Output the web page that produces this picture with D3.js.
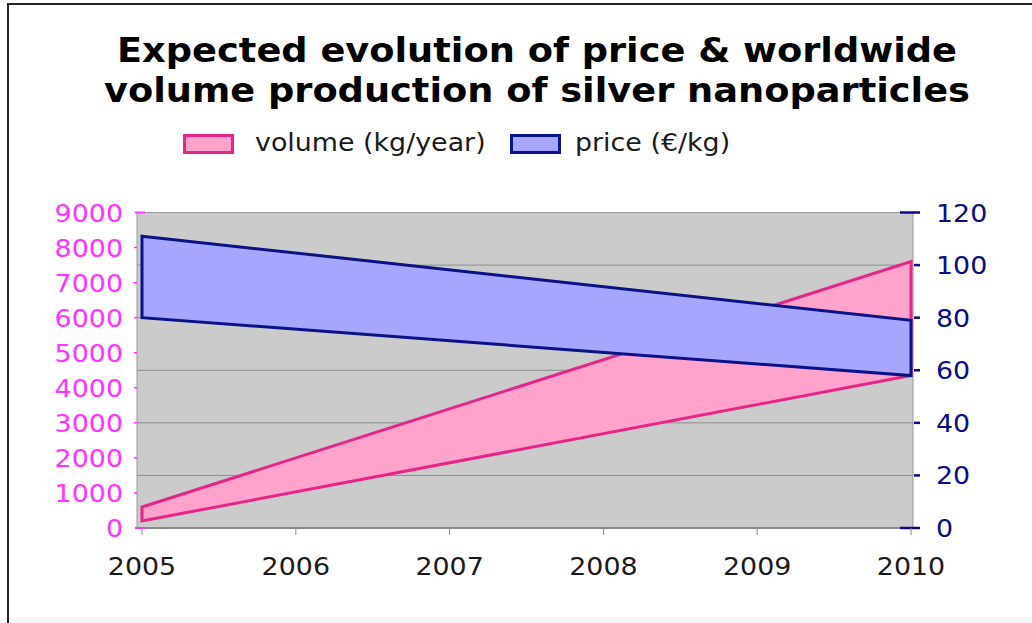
<!DOCTYPE html>
<html>
<head>
<meta charset="utf-8">
<script src="https://cdn.jsdelivr.net/npm/d3@7"></script>
<style>
  html, body { margin: 0; padding: 0; background: #fff; }
  svg { display: block; font-family: "DejaVu Sans", Verdana, sans-serif; }
</style>
</head>
<body>
<svg id="chart" width="1032" height="623"></svg>
<script>
// Category ticks along the time axis
const years = [2005, 2006, 2007, 2008, 2009, 2010];
// Projection end points (start and end year of the forecast)
const seriesYears = [2005, 2010];
// Worldwide volume production, kg/year (lower and upper estimate)
const volumeLow = [200, 4350];
const volumeHigh = [600, 7600];
// Price, €/kg (lower and upper estimate)
const priceLow = [80, 58];
const priceHigh = [111, 79];
// Axis tick values
const volumeTicks = [0, 1000, 2000, 3000, 4000, 5000, 6000, 7000, 8000, 9000];
const priceTicks = [0, 20, 40, 60, 80, 100, 120];
const titleLines = ["Expected evolution of price & worldwide", "volume production of silver nanoparticles"];
const legendLabels = ["volume (kg/year)", "price (€/kg)"];

const svg = d3.select("#chart");
const plot = { left: 137, right: 913, top: 212.5, bottom: 528 };

const pinkFill = "#ffa3cc", pinkLine = "#e5258a";
const blueFill = "#a6a6ff", blueLine = "#0a1288";
const magenta = "#ff33ff", navy = "#0b0b86";

// The lettering is set slightly wide; squeeze each label about its anchor point
const WIDE = 1.12;
function widen(sel, sx) {
  sel.attr("transform", function () {
    const tx = +this.getAttribute("x"), ty = +this.getAttribute("y");
    return `translate(${tx},${ty}) scale(${sx},1)`;
  }).attr("x", 0).attr("y", 0);
}

// Frame around the figure
svg.append("rect").attr("x", 0).attr("y", 617).attr("width", 1032).attr("height", 6).attr("fill", "#f6f6f6");
svg.append("path").attr("d", "M8,623 V4 H1032").attr("fill", "none").attr("stroke", "#222").attr("stroke-width", 2);

const x = d3.scaleLinear().domain([2005, 2010]).range([142, 911]);
const yVol = d3.scaleLinear().domain([0, 9000]).range([plot.bottom, plot.top]);
const yPrice = d3.scaleLinear().domain([0, 120]).range([plot.bottom, plot.top]);

// Plot background
svg.append("rect")
  .attr("x", plot.left).attr("y", plot.top)
  .attr("width", plot.right - plot.left).attr("height", plot.bottom - plot.top)
  .attr("fill", "#cbcbcb").attr("stroke", "#9a9a9a").attr("stroke-width", 1);

// Horizontal gridlines follow the price axis
svg.append("g").selectAll("line")
  .data(priceTicks.filter(d => d > 0 && d < 120))
  .join("line")
  .attr("x1", plot.left).attr("x2", plot.right)
  .attr("y1", d => yPrice(d)).attr("y2", d => yPrice(d))
  .attr("stroke", "#8c8c8c").attr("stroke-width", 1);

// Bottom axis line
svg.append("line")
  .attr("x1", plot.left).attr("x2", plot.right)
  .attr("y1", plot.bottom).attr("y2", plot.bottom)
  .attr("stroke", "#8a8a8a").attr("stroke-width", 2);

// Band areas: volume underneath, price on top
const volData = seriesYears.map((yr, i) => ({ yr, lo: volumeLow[i], hi: volumeHigh[i] }));
const priceData = seriesYears.map((yr, i) => ({ yr, lo: priceLow[i], hi: priceHigh[i] }));

const volArea = d3.area().x(d => x(d.yr)).y0(d => yVol(d.lo)).y1(d => yVol(d.hi));
const priceArea = d3.area().x(d => x(d.yr)).y0(d => yPrice(d.lo)).y1(d => yPrice(d.hi));

svg.append("path")
  .attr("d", volArea(volData))
  .attr("fill", pinkFill).attr("stroke", pinkLine).attr("stroke-width", 3).attr("stroke-linejoin", "miter");
svg.append("path")
  .attr("d", priceArea(priceData))
  .attr("fill", blueFill).attr("stroke", blueLine).attr("stroke-width", 3).attr("stroke-linejoin", "miter");

// Left axis (volume)
const gL = svg.append("g");
gL.selectAll("line").data(volumeTicks).join("line")
  .attr("x1", d => (d === 0 || d === 9000) ? 135 : 134)
  .attr("x2", d => (d === 0 || d === 9000) ? 145 : 137)
  .attr("y1", d => yVol(d)).attr("y2", d => yVol(d))
  .attr("stroke", magenta).attr("stroke-width", d => (d === 0 || d === 9000) ? 2 : 1.5);
gL.selectAll("text").data(volumeTicks).join("text")
  .attr("x", 123).attr("y", d => yVol(d) + 9)
  .attr("text-anchor", "end")
  .attr("font-size", 24).attr("fill", magenta)
  .text(d => d)
  .call(widen, WIDE);

// Right axis (price)
const gR = svg.append("g");
gR.selectAll("line").data(priceTicks).join("line")
  .attr("x1", d => (d === 0 || d === 120) ? 900 : 914)
  .attr("x2", 920)
  .attr("y1", d => yPrice(d)).attr("y2", d => yPrice(d))
  .attr("stroke", navy).attr("stroke-width", 2.5);
gR.selectAll("text").data(priceTicks).join("text")
  .attr("x", 936).attr("y", d => yPrice(d) + 9)
  .attr("font-size", 24).attr("fill", navy)
  .text(d => d)
  .call(widen, WIDE);

// Bottom axis (years)
const gB = svg.append("g");
gB.selectAll("line").data(years).join("line")
  .attr("x1", d => x(d)).attr("x2", d => x(d))
  .attr("y1", plot.bottom).attr("y2", plot.bottom + 7)
  .attr("stroke", "#8a8a8a").attr("stroke-width", 1);
gB.selectAll("text").data(years).join("text")
  .attr("x", d => x(d)).attr("y", 575)
  .attr("text-anchor", "middle")
  .attr("font-size", 24).attr("fill", "#1a1a1a")
  .text(d => d)
  .call(widen, WIDE);

// Title
const titleWidths = [840, 866];
svg.append("g").selectAll("text").data(titleLines).join("text")
  .attr("x", 537).attr("y", (d, i) => 62 + i * 40)
  .attr("text-anchor", "middle")
  .attr("font-size", 34).attr("font-weight", "bold").attr("fill", "#000")
  .attr("textLength", (d, i) => titleWidths[i]).attr("lengthAdjust", "spacingAndGlyphs")
  .text(d => d);

// Legend
const legend = [
  { label: legendLabels[0], fill: pinkFill, stroke: pinkLine, x: 183, tx: 255 },
  { label: legendLabels[1], fill: blueFill, stroke: blueLine, x: 510, tx: 575 }
];
const gLeg = svg.append("g");
gLeg.selectAll("rect").data(legend).join("rect")
  .attr("x", d => d.x + 1.5).attr("y", 135.5).attr("width", 48).attr("height", 17)
  .attr("fill", d => d.fill).attr("stroke", d => d.stroke).attr("stroke-width", 3);
gLeg.selectAll("text").data(legend).join("text")
  .attr("x", d => d.tx).attr("y", 151)
  .attr("font-size", 24).attr("fill", "#1a1a1a")
  .text(d => d.label)
  .call(widen, WIDE);
</script>
</body>
</html>
